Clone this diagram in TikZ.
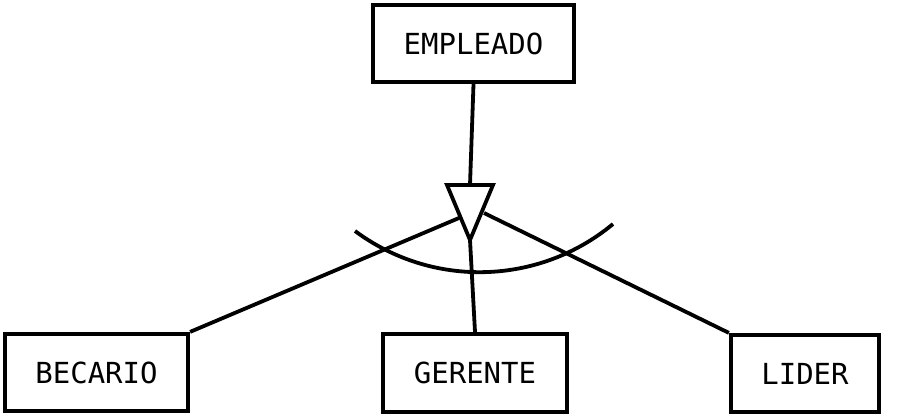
\documentclass[tikz,border=0pt]{standalone}
\usepackage{fontspec}
\newfontfamily\erfont{DejaVu Sans Mono}
\begin{document}
\begin{tikzpicture}[x=1pt,y=1pt,
  entity/.style={draw, line width=4.2pt, inner sep=0pt, font=\erfont\fontsize{29}{34}\selectfont},
  conn/.style={line width=3.8pt},
  tri/.style={line width=3.8pt, line join=miter, fill=white}]
\useasboundingbox (0,0) rectangle (920,418);
\node[entity, minimum width=201, minimum height=77] (emp) at (473.5,374.5) {EMPLEADO};
\node[entity, minimum width=183, minimum height=77] (bec) at (96.5,45.5) {BECARIO};
\node[entity, minimum width=184, minimum height=78] (ger) at (475,45) {GERENTE};
\node[entity, minimum width=148, minimum height=77] (lid) at (805,44.5) {LIDER};
% ISA triangle
\coordinate (tl) at (447,233);
\coordinate (tr) at (493,233);
\coordinate (ap) at (470,178);
\coordinate (tm) at (470,233);
\coordinate (lp) at (459,200);
\coordinate (rp) at (484,205);
\coordinate (arcA) at (355,187);
% connectors
\draw[conn] (emp.south) -- (tm);
\draw[conn] (ap) -- (ger.north);
\draw[conn] (bec.north east) -- (lp);
\draw[conn] (rp) -- (lid.north west);
\draw[tri] (tl) -- (tr) -- (ap) -- cycle;
% arc
\draw[conn] (arcA) arc[start angle=233.4, end angle=309.7, radius=208.9];
\end{tikzpicture}
\end{document}
